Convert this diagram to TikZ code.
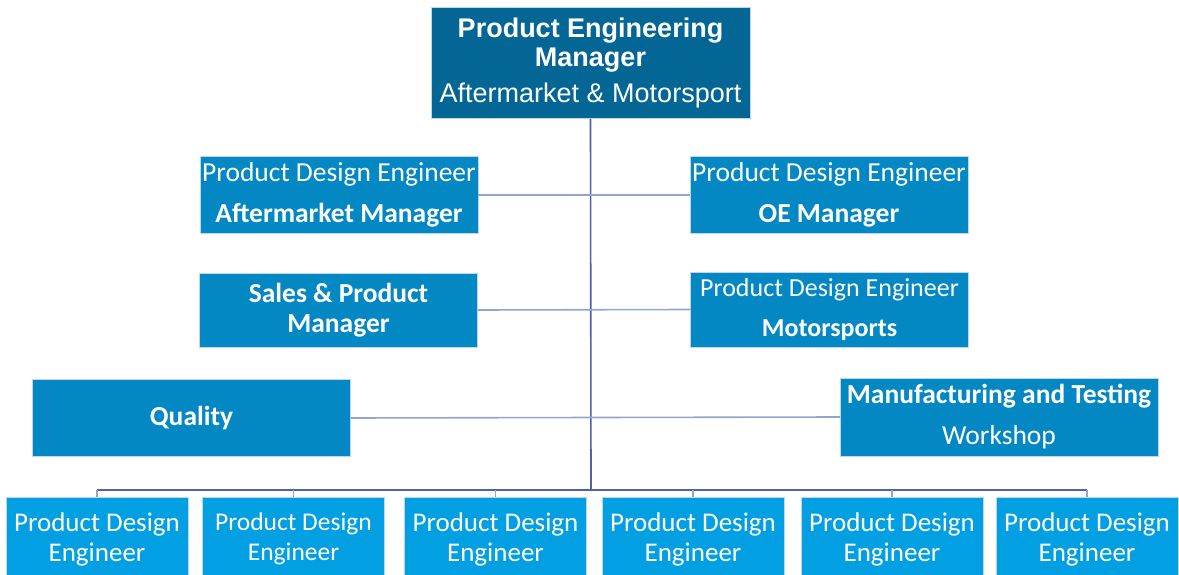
\documentclass[tikz,border=0pt]{standalone}
\usepackage{fontspec}
\setmainfont{Carlito}
\newfontfamily\headfont{Liberation Sans}
\usepackage{tikz}
\usetikzlibrary{positioning}
\definecolor{orgdark}{HTML}{036694}
\definecolor{orgmid}{HTML}{0388C4}
\definecolor{orglight}{HTML}{02A0E2}
\definecolor{orgedge}{HTML}{BCD8EE}
\definecolor{trunkline}{HTML}{4D62AA}
\definecolor{branchline}{HTML}{93A4D0}

\begin{document}
\begin{tikzpicture}[
  x=1pt, y=-1pt,
  box/.style={draw=orgedge, line width=1pt, text=white, align=center,
              inner sep=0pt, outer sep=0pt},
  head box/.style={box, fill=orgdark, minimum width=319pt, minimum height=111pt,
                   font=\headfont\fontsize{27}{29}\selectfont},
  lead box/.style={box, fill=orgmid, minimum width=278pt, minimum height=76pt,
                   font=\fontsize{27.5}{30}\selectfont},
  wide box/.style={lead box, minimum width=318pt, minimum height=77pt},
  staff box/.style={box, fill=orglight, minimum width=182pt, minimum height=84pt,
                    font=\fontsize{27}{30}\selectfont},
  trunk/.style={draw=trunkline, line width=1.6pt},
  branch/.style={draw=branchline, line width=1.6pt},
]
  \useasboundingbox (0,0) rectangle (1179,575);

  % Head of department
  \node[head box] (head) at (590.5,63.5)
    {\textbf{Product Engineering}\\\textbf{Manager}\\[7pt]Aftermarket \& Motorsport};

  % Leads reporting to the head, in three pairs
  \node[lead box] (aftermarket) at (339,195)
    {Product Design Engineer\\[11pt]\textbf{Aftermarket Manager}};
  \node[lead box] (oe) at (829,195)
    {Product Design Engineer\\[11pt]\textbf{OE Manager}};
  \node[lead box, minimum height=74pt] (sales) at (338.5,310)
    {\textbf{Sales \& Product}\\\textbf{Manager}};
  \node[lead box, minimum height=75pt, font=\fontsize{26}{30}\selectfont] (motorsport) at (829.5,309.5)
    {Product Design Engineer\\[10pt]\textbf{Motorsports}};
  \node[wide box] (quality) at (191.5,418) {\textbf{Quality}};
  \node[wide box, minimum height=78pt] (workshop) at (999,417)
    {\textbf{Manufacturing and Testing}\\[11pt]Workshop};

  % Engineers on the bottom row (boxes run off the lower edge)
  \foreach \name/\xpos/\size in {pdeA/97/27,pdeB/293.5/25.5,pdeC/495.5/27,
                                 pdeD/693/27,pdeE/892/27,pdeF/1087/27} {
    \node[staff box, font=\fontsize{\size}{30}\selectfont] (\name) at (\xpos,539)
      {Product Design\\Engineer};
  }

  % Connectors
  \coordinate (bus) at (591,490);
  \draw[trunk] (head.south) -- (bus);
  \draw[branch] (aftermarket.east) -- (oe.west);
  \draw[branch] (sales.east) -- (motorsport.west);
  \draw[branch] (quality.east) -- (workshop.west);
  \draw[trunk] (pdeA.north |- bus) -- (pdeF.north |- bus);
  \foreach \name in {pdeA,pdeB,pdeC,pdeD,pdeE,pdeF} {
    \draw[branch] (\name.north |- bus) -- (\name.north);
  }
\end{tikzpicture}
\end{document}
